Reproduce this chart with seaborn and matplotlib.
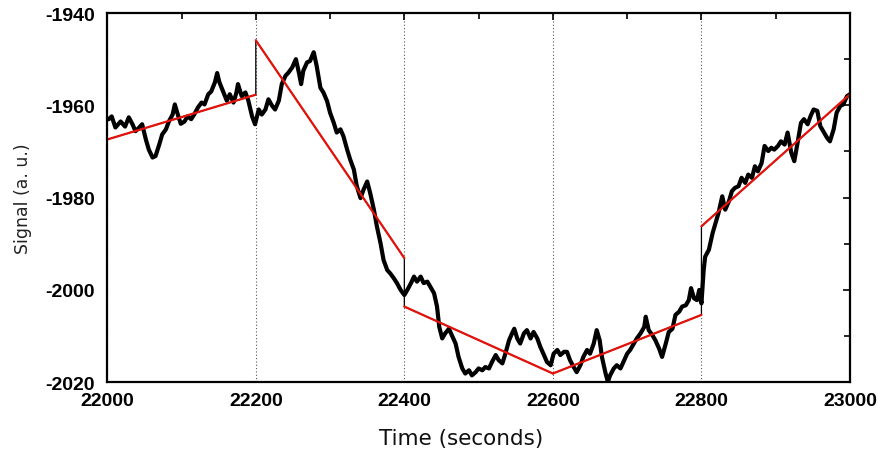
import numpy as np
import pandas as pd
import matplotlib
matplotlib.use("Agg")
import matplotlib.pyplot as plt
import seaborn as sns


tempo = [
    22000, 22002, 22006, 22011, 22018, 22024, 22029, 22034, 22038, 22043, 22047,
    22052, 22056, 22061, 22065, 22070, 22074, 22079, 22083, 22088, 22091, 22095,
    22099, 22104, 22108, 22113, 22117, 22122, 22127, 22131, 22136, 22140, 22145,
    22148, 22151, 22156, 22161, 22165, 22170, 22174, 22176, 22181, 22186, 22190,
    22195, 22199,
    22204, 22208, 22213, 22217, 22222, 22226, 22231, 22235, 22240, 22244, 22249,
    22254, 22258, 22261, 22264, 22269, 22273, 22278, 22282, 22287, 22291, 22296,
    22300, 22305, 22309, 22314, 22318, 22323, 22327, 22332, 22336, 22341, 22345,
    22350, 22354, 22359, 22363, 22368, 22372, 22377, 22381, 22386, 22390, 22395,
    22400, 22404, 22409, 22413,
    22417, 22422, 22426, 22431, 22435, 22440, 22444, 22447, 22451, 22455, 22460,
    22464, 22469, 22473, 22478, 22482, 22487, 22491, 22496, 22500, 22505, 22509,
    22514, 22518, 22523, 22527, 22532, 22536, 22541, 22545, 22548, 22552, 22556,
    22561, 22565, 22570, 22574, 22579, 22583, 22588, 22592, 22597, 22601, 22606,
    22610, 22615,
    22619, 22623, 22628, 22632, 22637, 22641, 22646, 22650, 22655, 22659, 22663,
    22666, 22671, 22674, 22677, 22682, 22686, 22691, 22696, 22700, 22704, 22709,
    22713, 22718, 22723, 22725, 22729, 22734, 22738, 22743, 22747, 22752, 22756,
    22761, 22765, 22770, 22774, 22779, 22783, 22786, 22790, 22794, 22797, 22800,
    22803, 22805, 22810,
    22815, 22819, 22823, 22828, 22832, 22837, 22841, 22845, 22850, 22854, 22859,
    22863, 22868, 22872, 22876, 22881, 22885, 22890, 22894, 22898, 22903, 22907,
    22912, 22916, 22921, 22925, 22929, 22934, 22938, 22943, 22947, 22951, 22956,
    22960, 22965, 22969, 22973, 22978, 22982, 22987, 22991, 22996, 23000,
]

sinal = [
    -1963.0, -1963.0, -1962.4, -1964.8, -1963.5, -1964.6, -1962.6, -1964.1, -1965.6, -1964.8, -1964.1,
    -1967.4, -1969.6, -1971.3, -1971.0, -1968.5, -1966.3, -1965.2, -1963.5, -1962.0, -1959.8, -1962.0,
    -1964.0, -1963.5, -1962.4, -1963.0, -1962.0, -1960.5, -1959.4, -1959.8, -1957.6, -1957.0, -1955.0,
    -1953.0, -1955.0, -1957.0, -1959.0, -1957.6, -1959.4, -1957.2, -1955.4, -1958.0, -1957.2, -1959.0,
    -1962.4, -1964.1,
    -1960.9, -1962.0, -1960.9, -1958.7, -1960.1, -1960.9, -1959.0, -1955.4, -1953.6, -1952.9, -1951.8,
    -1950.0, -1952.9, -1955.4, -1952.5, -1950.7, -1950.4, -1948.5, -1951.5, -1956.2, -1957.2, -1959.1,
    -1961.6, -1963.8, -1965.9, -1965.2, -1966.7, -1969.6, -1971.7, -1973.9, -1977.5, -1980.1, -1978.3,
    -1976.5, -1979.0, -1982.6, -1986.2, -1989.9, -1993.5, -1995.7, -1996.4, -1997.5, -1998.5, -2000.0,
    -2001.1, -2000.0, -1998.5, -1997.1,
    -1998.2, -1997.1, -1998.5, -1998.2, -1999.3, -2000.7, -2003.6, -2008.0, -2010.5, -2009.4, -2008.4,
    -2009.8, -2011.6, -2014.5, -2017.0, -2018.1, -2017.4, -2018.5, -2017.8, -2017.0, -2017.4, -2016.7,
    -2017.0, -2015.6, -2014.1, -2015.2, -2015.9, -2013.8, -2010.9, -2009.4, -2008.4, -2010.5, -2011.6,
    -2009.4, -2008.7, -2010.5, -2009.1, -2010.5, -2012.3, -2014.1, -2015.6, -2016.3, -2013.8, -2013.0,
    -2014.1, -2013.4,
    -2013.4, -2015.2, -2016.7, -2017.8, -2016.3, -2014.5, -2013.0, -2013.8, -2011.6, -2008.7, -2010.9,
    -2014.5, -2018.1, -2019.9, -2018.5, -2017.0, -2016.3, -2017.0, -2015.2, -2013.8, -2013.0, -2011.6,
    -2010.5, -2009.4, -2008.0, -2005.8, -2008.7, -2009.8, -2010.9, -2012.7, -2014.5, -2011.6, -2009.1,
    -2008.4, -2005.4, -2004.7, -2003.6, -2003.3, -2002.2, -1999.6, -2001.8, -2002.2, -2000.0, -2002.9,
    -1995.7, -1992.8, -1991.3,
    -1987.7, -1985.5, -1983.3, -1979.7, -1982.6, -1980.8, -1978.6, -1977.9, -1977.5, -1975.7, -1976.8,
    -1975.0, -1975.7, -1973.2, -1974.3, -1972.5, -1968.8, -1969.9, -1969.2, -1969.6, -1968.8, -1967.8,
    -1968.5, -1965.9, -1970.3, -1972.1, -1968.5, -1963.8, -1963.0, -1964.1, -1962.3, -1960.9, -1961.2,
    -1964.5, -1965.9, -1967.0, -1967.8, -1965.2, -1961.6, -1960.1, -1959.8, -1958.0, -1957.6,
]

# linear fit per 200 s window
ajuste_t0 = [22000, 22200, 22400, 22600, 22800]
ajuste_t1 = [22200, 22400, 22600, 22800, 23000]
ajuste_v0 = [-1967.4, -1945.9, -2003.6, -2018.1, -1986.2]
ajuste_v1 = [-1957.7, -1993.1, -2018.1, -2005.4, -1957.6]

xticks = [22000, 22200, 22400, 22600, 22800, 23000]
yticks = [-2020, -2000, -1980, -1960, -1940]


sns.set_theme(style="white")
plt.rcParams["axes.unicode_minus"] = False
plt.rcParams["font.family"] = ["DejaVu Sans"]

fig, ax = plt.subplots(figsize=(8.79, 4.52), dpi=100)
fig.subplots_adjust(left=0.122, right=0.967, top=0.969, bottom=0.152)

sinal_df = pd.DataFrame({"t": tempo, "v": sinal})

# thin black line joining the fit pieces (shows the jumps)
jt, jv = [], []
for a, b, c, d in zip(ajuste_t0, ajuste_t1, ajuste_v0, ajuste_v1):
    jt += [a, b]
    jv += [c, d]
juncao = pd.DataFrame({"t": jt, "v": jv})

sns.lineplot(data=juncao, x="t", y="v", sort=False, estimator=None,
             color="black", linewidth=0.9, ax=ax)

sns.lineplot(data=sinal_df, x="t", y="v", sort=False, estimator=None,
             color="black", linewidth=3.0, ax=ax)

for a, b, c, d in zip(ajuste_t0, ajuste_t1, ajuste_v0, ajuste_v1):
    seg = pd.DataFrame({"t": [a, b], "v": [c, d]})
    sns.lineplot(data=seg, x="t", y="v", estimator=None, color="#e3120b",
                 linewidth=1.6, ax=ax)

ax.set_xlim(22000, 23000)
ax.set_ylim(-2020, -1940)

ax.set_xticks(xticks)
ax.set_xticklabels([str(x) for x in xticks])
ax.set_xticks(np.arange(22100, 23000, 200), minor=True)
ax.set_yticks(yticks)
ax.set_yticklabels([str(y) for y in yticks])
ax.set_yticks(np.arange(-2010, -1940, 20), minor=True)

ax.grid(axis="x", which="major", linestyle=(0, (1, 2)), color="#555555",
        linewidth=0.8)

for lado in ax.spines.values():
    lado.set_color("black")
    lado.set_linewidth(1.6)

ax.tick_params(which="both", direction="in", top=True, right=True,
               color="black", width=1.2)
ax.tick_params(which="major", length=5)
ax.tick_params(which="minor", length=4)
ax.tick_params(axis="x", which="major", pad=7)
ax.tick_params(axis="y", which="major", pad=9)

for lbl in ax.get_xticklabels() + ax.get_yticklabels():
    lbl.set_fontfamily(["Liberation Sans", "DejaVu Sans"])
    lbl.set_fontweight("bold")
    lbl.set_fontsize(14)
    lbl.set_color("black")

ax.set_xlabel("Time (seconds)", fontsize=15.5, color="#111111")
ax.xaxis.set_label_coords(0.477, -0.125)
ax.set_ylabel("Signal (a. u.)", fontsize=12.5, color="#222222", labelpad=9)

fig.savefig("out.png", dpi=100)
